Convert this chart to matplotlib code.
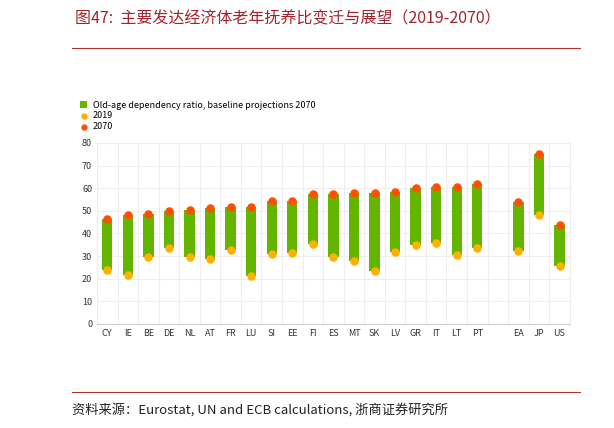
import matplotlib.pyplot as plt

plt.rcParams['font.family'] = ['Noto Sans CJK SC', 'DejaVu Sans']

countries = ['CY', 'IE', 'BE', 'DE', 'NL', 'AT', 'FR', 'LU', 'SI', 'EE', 'FI', 'ES', 'MT',
             'SK', 'LV', 'GR', 'IT', 'LT', 'PT', '', 'EA', 'JP', 'US']
v2019 = [24, 21.5, 29.5, 33.5, 29.5, 28.5, 32.5, 21, 30.8, 31.2, 35.3, 29.5, 27.8,
         23.6, 31.6, 34.7, 35.6, 30.3, 33.8, None, 32.2, 48.1, 25.6]
v2070 = [46.5, 48, 48.5, 50, 50.3, 51.2, 51.5, 51.7, 54.2, 54.5, 57.5, 57.6, 57.8,
         57.9, 58.2, 59.9, 60.7, 60.7, 61.7, None, 53.9, 75.2, 43.8]

fig = plt.figure(figsize=(6.14, 4.28), dpi=100)
fig.patch.set_facecolor('white')

fig.text(0.122, 0.955, '图47:  主要发达经济体老年抚养比变迁与展望（2019-2070）',
         color='#A3232B', fontsize=11.5, va='center')
fig.add_artist(plt.Line2D([0.117, 0.945], [0.888, 0.888], color='#B03030', lw=0.8))
fig.add_artist(plt.Line2D([0.117, 0.945], [0.085, 0.085], color='#B03030', lw=0.8))
fig.text(0.117, 0.042, '资料来源：Eurostat, UN and ECB calculations, 浙商证券研究所',
         fontsize=9.5, va='center', color='#222222')

ax = fig.add_axes([0.158, 0.243, 0.77, 0.423])
idx = [i for i, c in enumerate(countries) if c]
x = list(range(len(countries)))
lo = [v2019[i] for i in idx]
hi = [v2070[i] for i in idx]
b = ax.bar([x[i] for i in idx], [h - l for h, l in zip(hi, lo)], bottom=lo, width=0.5,
           color='#64B500', label='Old-age dependency ratio, baseline projections 2070', zorder=2)
s1 = ax.scatter([x[i] for i in idx], lo, color='#FFB000', s=26, zorder=3, label='2019')
s2 = ax.scatter([x[i] for i in idx], hi, color='#FF4F00', s=26, zorder=3, label='2070')

ax.set_xlim(-0.5, len(countries) - 0.5)
ax.set_ylim(0, 80)
ax.set_yticks(range(0, 81, 10))
ax.set_xticks(x)
ax.set_xticklabels(countries)
ax.set_xticks([i + 0.5 for i in x[:-1]], minor=True)
ax.grid(True, which='minor', axis='x', color='#EEEEEE', lw=0.8, zorder=0)
ax.grid(True, which='major', axis='y', color='#EEEEEE', lw=0.8, zorder=0)
ax.tick_params(which='both', length=0, labelsize=6.5, colors='#333333')
for s in ax.spines.values():
    s.set_color('#EEEEEE')
ax.spines['bottom'].set_color('#CCCCCC')

ax.legend(handles=[b, s1, s2], loc='lower left', bbox_to_anchor=(-0.045, 1.04), frameon=False,
          fontsize=6.5, handlelength=0.8, handleheight=0.8, labelspacing=0.2, borderpad=0,
          handletextpad=0.6, markerscale=0.7)

fig.savefig('out.png', dpi=100)
